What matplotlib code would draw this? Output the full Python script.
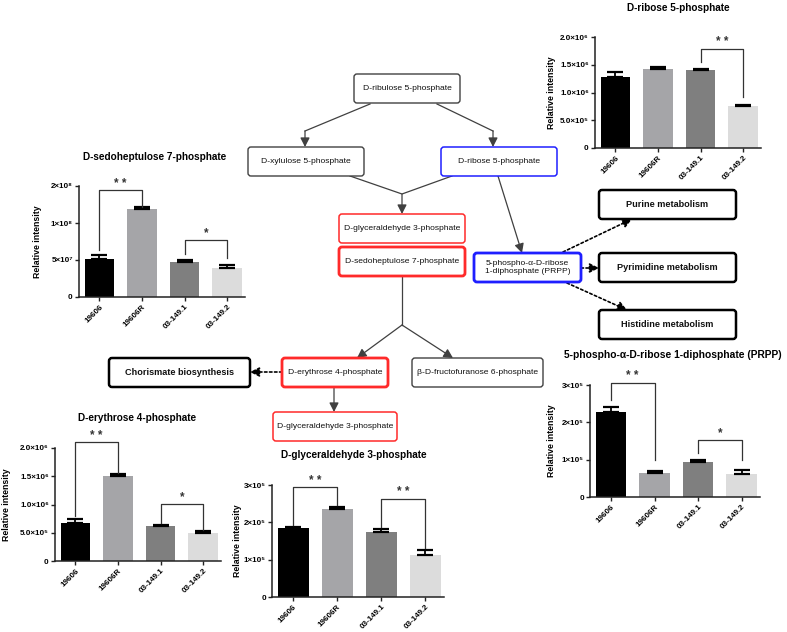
import numpy as np
import matplotlib
matplotlib.use('Agg')
import matplotlib.pyplot as plt
from matplotlib.patches import FancyBboxPatch

plt.rcParams['font.family'] = ['Liberation Sans', 'DejaVu Sans']

W, H = 787, 632

# ---- data ----
groups = ['19606', '19606R', '03-149.1', '03-149.2']
bar_colors = ['#000000', '#a5a5a8', '#7f7f7f', '#dcdcdc']

r5p_mean = [1.28e6, 1.43e6, 1.41e6, 0.75e6]
r5p_err = [0.09e6, 0.03e6, 0.02e6, 0.02e6]

s7p_mean = [5.2e7, 1.185e8, 4.73e7, 3.92e7]
s7p_err = [0.45e7, 0.03e8, 0.22e7, 0.36e7]

e4p_mean = [0.667e6, 1.51e6, 0.62e6, 0.49e6]
e4p_err = [0.07e6, 0.035e6, 0.02e6, 0.04e6]

g3p_mean = [1.835e5, 2.37e5, 1.73e5, 1.12e5]
g3p_err = [0.045e5, 0.05e5, 0.08e5, 0.13e5]

prpp_mean = [2.28e5, 0.64e5, 0.94e5, 0.61e5]
prpp_err = [0.13e5, 0.05e5, 0.04e5, 0.10e5]

# significance brackets: (left bar, right bar, bracket height, left leg end, right leg end, label)
r5p_sig = [(2, 3, 1.79e6, 1.55e6, 0.92e6, '**')]
s7p_sig = [(0, 1, 1.44e8, 6.3e7, 1.22e8, '**'), (2, 3, 7.66e7, 5.86e7, 5.3e7, '*')]
e4p_sig = [(0, 1, 2.1e6, 0.79e6, 1.56e6, '**'), (2, 3, 1.01e6, 0.67e6, 0.55e6, '*')]
g3p_sig = [(0, 1, 2.94e5, 1.92e5, 2.46e5, '**'), (2, 3, 2.62e5, 1.88e5, 1.30e5, '**')]
prpp_sig = [(0, 1, 3.06e5, 2.59e5, 0.98e5, '**'), (2, 3, 1.52e5, 1.18e5, 0.98e5, '*')]

ticks_6 = [0, 0.5e6, 1.0e6, 1.5e6, 2.0e6]
labels_6 = ['0', '5.0×10⁵', '1.0×10⁶', '1.5×10⁶', '2.0×10⁶']
ticks_8 = [0, 5e7, 1e8, 1.5e8]
labels_8 = ['0', '5×10⁷', '1×10⁸', '2×10⁸']
ticks_5 = [0, 1e5, 2e5, 3e5]
labels_5 = ['0', '1×10⁵', '2×10⁵', '3×10⁵']

fig = plt.figure(figsize=(W / 100, H / 100), dpi=100)

# ---- pathway diagram on a pixel-coordinate overlay ----
ax0 = fig.add_axes([0, 0, 1, 1])
ax0.set_xlim(0, W)
ax0.set_ylim(H, 0)
ax0.axis('off')

GREY, RED, BLUE, BLACK = '#404040', '#ff2a2a', '#1f1fff', '#000000'

boxes = [
    ('D-ribulose 5-phosphate', 354, 74, 460, 103, GREY, 1.0, False),
    ('D-xylulose 5-phosphate', 248, 147, 364, 176, GREY, 1.0, False),
    ('D-ribose 5-phosphate', 441, 147, 557, 176, BLUE, 1.1, False),
    ('D-glyceraldehyde 3-phosphate', 339, 214, 465, 243, RED, 1.1, False),
    ('D-sedoheptulose 7-phosphate', 339, 247, 465, 276, RED, 2.0, False),
    ('5-phospho-α-D-ribose\n1-diphosphate (PRPP)', 474, 253, 581, 282, BLUE, 2.0, False),
    ('Purine metabolism', 599, 190, 736, 219, BLACK, 1.8, True),
    ('Pyrimidine metabolism', 599, 253, 736, 282, BLACK, 1.8, True),
    ('Histidine metabolism', 599, 310, 736, 339, BLACK, 1.8, True),
    ('D-erythrose 4-phosphate', 282, 358, 388, 387, RED, 2.0, False),
    ('β-D-fructofuranose 6-phosphate', 412, 358, 543, 387, GREY, 1.0, False),
    ('Chorismate biosynthesis', 109, 358, 250, 387, BLACK, 1.8, True),
    ('D-glyceraldehyde 3-phosphate', 273, 412, 397, 441, RED, 1.1, False),
]
for txt, x0, y0, x1, y1, ec, lw, bold in boxes:
    ax0.add_patch(FancyBboxPatch((x0, y0), x1 - x0, y1 - y0,
                                 boxstyle='round,pad=0,rounding_size=3',
                                 fc='white', ec=ec, lw=lw, zorder=2))
    ax0.text((x0 + x1) / 2, (y0 + y1) / 2, txt, ha='center', va='center',
             fontsize=6.6 if bold else 6.1, fontweight='bold' if bold else 'normal',
             color='#111111', linespacing=1.2, zorder=3)


def arrow(p0, p1, dotted=False):
    ax0.annotate('', xy=p1, xytext=p0,
                 arrowprops=dict(arrowstyle='-|>,head_length=0.55,head_width=0.28',
                                 color='black' if dotted else GREY,
                                 lw=1.2 if dotted else 0.9,
                                 ls=(0, (1.5, 1.5)) if dotted else '-',
                                 shrinkA=0, shrinkB=0, mutation_scale=10),
                 zorder=1)


def seg(pts):
    xs, ys = zip(*pts)
    ax0.plot(xs, ys, color=GREY, lw=0.9, zorder=1)


seg([(370, 104), (305, 131)])
arrow((305, 131), (305, 147))
seg([(437, 104), (493, 131)])
arrow((493, 131), (493, 147))
seg([(350, 176), (402, 194), (452, 176)])
arrow((402, 194), (402, 214))
arrow((498, 176), (522, 253))
seg([(402, 276), (402, 325)])
arrow((402, 325), (357, 358))
arrow((402, 325), (453, 358))
arrow((334, 387), (334, 412))
arrow((282, 372), (250, 372), dotted=True)
arrow((563, 252), (632, 219), dotted=True)
arrow((581, 268), (599, 268), dotted=True)
arrow((567, 283), (627, 310), dotted=True)


# ---- bar panels ----
def panel(x0, zero_y, top_y, means, errs, ymax, yticks, ylabels, sig,
          title, tx, ty, lab_x, w=166, tsize=7.2):
    ax = fig.add_axes([x0 / W, (H - zero_y) / H, w / W, (zero_y - top_y) / H])
    ax.patch.set_alpha(0)
    pos = np.arange(len(groups))
    ax.bar(pos, means, width=0.7, color=bar_colors, zorder=2)
    ax.errorbar(pos, means, yerr=[np.zeros(len(means)), errs], fmt='none',
                ecolor='black', elinewidth=1.3, capsize=6, capthick=1.6, zorder=3)
    ax.set_xlim(-0.48, 3.42)
    ax.set_ylim(0, ymax)
    ax.set_yticks(yticks)
    ax.set_yticklabels(ylabels, fontsize=5.8, fontweight='bold')
    ax.set_xticks(pos)
    ax.set_xticklabels(groups, rotation=45, ha='right', rotation_mode='anchor',
                       fontsize=5.8, fontweight='bold')
    ax.tick_params(axis='both', length=3, width=1, pad=1.5, color='#222222')
    for s in ('top', 'right'):
        ax.spines[s].set_visible(False)
    for s in ('left', 'bottom'):
        ax.spines[s].set_linewidth(1.1)
        ax.spines[s].set_color('#222222')
    for i, j, yb, yl, yr, lab in sig:
        ax.plot([i, i, j, j], [yl, yb, yb, yr], color='#333333', lw=0.9,
                clip_on=False, zorder=4)
        ax.annotate(' '.join(lab), xy=((i + j) / 2, yb), xytext=(0, 0.5),
                    textcoords='offset points', ha='center', va='bottom',
                    fontsize=8.5, fontweight='bold', color='#333333',
                    annotation_clip=False)
    ax0.text(tx, ty, title, ha='center', va='center', fontsize=tsize,
             fontweight='bold')
    ax0.text(lab_x, (zero_y + top_y) / 2, 'Relative intensity', rotation=90,
             ha='center', va='center', fontsize=6.3, fontweight='bold')
    return ax


panel(595, 148, 37, r5p_mean, r5p_err, 2.0e6, ticks_6, labels_6, r5p_sig,
      'D-ribose 5-phosphate', 678, 8, 552)
panel(79, 297, 186, s7p_mean, s7p_err, 1.5e8, ticks_8, labels_8, s7p_sig,
      'D-sedoheptulose 7-phosphate', 155, 157, 38)
panel(55, 561, 448, e4p_mean, e4p_err, 2.0e6, ticks_6, labels_6, e4p_sig,
      'D-erythrose 4-phosphate', 137, 418, 7)
panel(272, 597, 485, g3p_mean, g3p_err, 3e5, ticks_5, labels_5, g3p_sig,
      'D-glyceraldehyde 3-phosphate', 354, 455, 237, w=172)
panel(590, 497, 385, prpp_mean, prpp_err, 3e5, ticks_5, labels_5, prpp_sig,
      '5-phospho-α-D-ribose 1-diphosphate (PRPP)', 673, 355, 552, w=170,
      tsize=7.4)

fig.savefig('out.png', dpi=100)
